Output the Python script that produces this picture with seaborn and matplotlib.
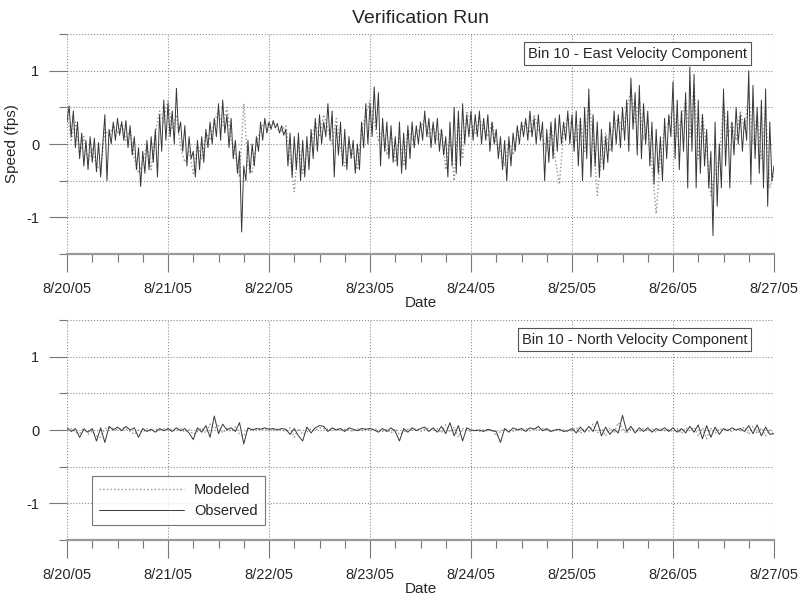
import numpy as np
import pandas as pd
import matplotlib
matplotlib.use('Agg')
import matplotlib.pyplot as plt
import matplotlib.dates as mdates
from matplotlib.ticker import FuncFormatter, MultipleLocator
import seaborn as sns

# East component, observed (half-hourly, one row = 6 hours)
east_observed = [
    # 8/20
    0.30, 0.52, 0.10, 0.45, -0.05, 0.30, -0.20, 0.15, -0.30, 0.05, -0.35, 0.10,
    -0.25, 0.08, -0.38, 0.02, -0.45, 0.00, 0.40, -0.50, 0.20, 0.00, 0.30, 0.05,
    0.35, 0.12, 0.30, 0.05, 0.32, -0.05, 0.25, -0.15, 0.10, -0.35, -0.05, -0.58,
    -0.10, -0.40, 0.05, -0.35, 0.10, -0.25, 0.20, -0.45, 0.40, -0.10, 0.60, 0.05,
    # 8/21
    0.55, 0.10, 0.45, 0.00, 0.76, 0.15, 0.30, -0.10, 0.25, -0.30, 0.10, -0.20,
    -0.10, -0.45, 0.05, -0.35, 0.10, -0.25, 0.20, -0.05, 0.30, 0.00, 0.35, 0.10,
    0.55, 0.05, 0.60, 0.15, 0.40, -0.05, 0.35, -0.20, 0.05, -0.40, -0.10, -1.20,
    -0.30, -0.50, 0.05, -0.40, 0.00, -0.30, 0.10, -0.10, 0.30, 0.05, 0.35, 0.15,
    # 8/22
    0.30, 0.20, 0.32, 0.22, 0.28, 0.15, 0.25, 0.12, 0.20, -0.30, 0.15, -0.45,
    0.10, -0.35, 0.15, -0.50, 0.05, -0.45, 0.10, -0.35, 0.20, -0.20, 0.35, -0.10,
    0.40, 0.00, 0.30, 0.10, 0.55, 0.05, 0.45, -0.45, 0.25, -0.15, 0.30, -0.30,
    0.20, -0.35, 0.10, -0.20, 0.05, -0.40, 0.00, -0.35, 0.30, -0.05, 0.55, 0.00,
    # 8/23
    0.55, 0.10, 0.78, 0.20, 0.70, -0.30, 0.35, -0.10, 0.30, -0.20, 0.25, -0.25,
    0.10, -0.30, 0.30, -0.40, 0.15, -0.35, 0.25, -0.20, 0.30, -0.05, 0.25, 0.00,
    0.30, 0.05, 0.45, 0.10, 0.35, -0.05, 0.30, 0.00, 0.35, -0.10, 0.20, -0.15,
    0.10, -0.45, 0.30, -0.30, 0.50, -0.40, 0.45, -0.30, 0.55, 0.00, 0.40, 0.10,
    # 8/24
    0.45, 0.05, 0.40, 0.10, 0.45, 0.00, 0.35, 0.05, 0.40, -0.10, 0.30, 0.00,
    0.20, -0.20, 0.10, -0.35, 0.05, -0.50, 0.10, -0.30, 0.15, -0.10, 0.25, 0.00,
    0.30, 0.10, 0.35, 0.05, 0.45, 0.10, 0.35, 0.00, 0.40, 0.05, 0.30, -0.50,
    0.20, -0.25, 0.30, -0.20, 0.35, -0.10, 0.40, 0.00, 0.30, 0.05, 0.45, 0.00,
    # 8/25
    0.40, -0.10, 0.45, -0.30, 0.35, -0.50, 0.50, -0.20, 0.75, -0.45, 0.40, -0.30,
    0.30, -0.45, 0.20, -0.35, 0.10, -0.25, 0.30, -0.10, 0.45, 0.00, 0.40, -0.05,
    0.50, 0.05, 0.60, -0.10, 0.90, 0.20, 0.70, -0.15, 0.80, -0.20, 0.55, 0.00,
    0.45, -0.30, 0.30, -0.55, 0.20, -0.40, 0.10, -0.50, 0.35, -0.20, 0.40, 0.10,
    # 8/26
    0.85, -0.20, 0.60, -0.35, 0.45, -0.10, 0.70, -0.60, 1.05, -0.10, 0.95, -0.60,
    0.60, -0.40, 0.40, -0.30, 0.20, -0.60, -0.10, -1.25, 0.30, -0.85, 0.00, -0.60,
    0.75, -0.30, 0.45, -0.60, 0.30, -0.15, 0.50, 0.00, 0.40, -0.10, 0.35, 0.05,
    1.00, -0.55, 0.80, -0.20, 0.50, -0.40, 0.60, -0.60, 0.75, -0.85, 0.30, -0.50,
    # 8/27 00:00
    -0.30,
]

# East component, modeled (hourly)
east_modeled = [
    0.45, 0.05, 0.30, -0.15, 0.10, -0.25, -0.05, -0.30, -0.35, 0.20, 0.10, 0.25,
    0.15, 0.30, 0.05, 0.20, -0.20, -0.40, -0.25, 0.00, -0.35, 0.15, 0.45, 0.30,
    0.60, 0.20, 0.40, -0.05, -0.25, -0.10, -0.40, 0.00, -0.20, 0.15, 0.05, 0.30,
    0.45, 0.25, 0.50, 0.05, -0.15, -0.45, 0.55, -0.30, -0.40, 0.00, 0.20, 0.30,
    0.25, 0.28, 0.20, 0.18, 0.25, -0.20, -0.65, 0.05, -0.40, -0.15, 0.00, 0.30,
    0.10, 0.40, 0.20, 0.00, 0.35, -0.05, -0.30, 0.00, -0.15, -0.35, 0.20, 0.40,
    0.60, 0.30, 0.05, 0.20, -0.15, 0.15, -0.25, 0.10, -0.30, 0.20, 0.05, 0.15,
    0.20, 0.35, 0.10, 0.25, 0.05, 0.20, -0.35, 0.10, -0.50, 0.35, -0.20, 0.45,
    0.30, 0.15, 0.35, 0.20, 0.10, 0.30, 0.00, -0.10, -0.30, 0.05, -0.15, 0.15,
    0.20, 0.30, 0.15, 0.40, 0.20, 0.10, -0.10, 0.25, -0.20, -0.55, 0.15, 0.35,
    0.25, 0.05, 0.35, -0.10, 0.60, 0.10, -0.70, -0.20, 0.15, -0.10, 0.25, 0.35,
    0.20, 0.45, 0.75, 0.30, 0.60, 0.05, 0.35, -0.30, -0.95, -0.20, 0.20, 0.30,
    0.50, 0.10, 0.35, 0.60, 0.10, 0.80, -0.20, 0.40, -0.10, -0.70, -0.40, -0.20,
    0.55, 0.10, 0.30, 0.05, 0.45, 0.20, 0.70, 0.00, 0.40, -0.20, 0.50, -0.60,
    -0.40,
]

# North component, observed (hourly)
north_observed = [
    0.03, -0.02, 0.02, -0.10, 0.01, -0.03, 0.02, -0.15, 0.03, -0.17, 0.05, 0.00,
    0.04, -0.01, 0.05, 0.00, 0.03, -0.10, 0.02, -0.02, 0.01, -0.03, 0.02, -0.01,
    0.02, -0.02, 0.03, -0.01, 0.02, -0.04, -0.13, 0.03, -0.03, 0.06, -0.10, 0.19,
    -0.05, 0.08, 0.00, 0.03, -0.02, 0.10, -0.19, 0.03, 0.00, 0.02, 0.01, 0.03,
    0.01, 0.02, 0.00, 0.02, 0.01, -0.06, 0.02, -0.08, -0.15, 0.04, -0.04, 0.03,
    0.06, 0.05, -0.02, 0.03, 0.00, 0.02, -0.02, 0.03, 0.01, -0.01, 0.02, 0.01,
    0.02, 0.00, -0.03, 0.02, -0.02, 0.03, -0.02, -0.15, 0.02, -0.03, 0.03, -0.01,
    0.02, 0.04, -0.02, 0.03, -0.03, 0.05, -0.05, 0.10, -0.08, 0.06, -0.15, 0.03,
    0.00, -0.01, 0.00, -0.02, 0.01, -0.01, -0.02, -0.17, 0.02, -0.03, 0.03, 0.00,
    0.02, -0.02, 0.03, 0.01, 0.05, -0.01, 0.02, -0.02, 0.00, 0.01, -0.02, -0.01,
    0.02, -0.04, 0.04, -0.03, 0.05, -0.02, 0.12, -0.08, 0.04, -0.06, 0.01, -0.04,
    0.20, -0.02, 0.05, -0.04, 0.03, -0.02, 0.03, -0.03, 0.02, -0.01, 0.03, -0.02,
    0.03, -0.03, 0.02, -0.04, 0.05, -0.03, 0.07, -0.12, 0.06, -0.10, 0.04, -0.06,
    0.02, -0.01, 0.03, 0.00, 0.02, -0.02, 0.06, -0.05, 0.07, -0.08, 0.04, -0.06,
    -0.05,
]

# North component, modeled (hourly)
north_modeled = [
    0.00, 0.02, -0.03, -0.05, 0.03, -0.06, -0.02, -0.08, -0.10, 0.02, 0.03, 0.02,
    0.00, 0.03, 0.02, -0.02, -0.06, 0.00, -0.03, 0.02, -0.02, 0.01, 0.00, 0.02,
    0.00, 0.01, -0.01, 0.02, -0.03, 0.01, -0.06, -0.02, 0.03, -0.04, 0.08, 0.02,
    0.06, -0.04, 0.02, -0.02, 0.04, -0.06, -0.08, 0.02, 0.01, 0.00, 0.02, 0.00,
    0.02, 0.00, 0.01, 0.00, -0.02, 0.03, -0.10, 0.02, -0.06, -0.03, 0.02, 0.00,
    0.03, 0.02, 0.01, -0.01, 0.02, 0.00, 0.01, 0.00, -0.02, 0.02, 0.00, 0.01,
    0.00, 0.02, 0.00, -0.02, 0.01, -0.04, 0.02, -0.06, -0.03, 0.01, 0.00, 0.02,
    -0.02, 0.01, 0.03, -0.01, 0.02, -0.04, 0.07, -0.03, 0.04, -0.10, 0.02, 0.00,
    -0.02, 0.01, -0.02, 0.00, -0.01, 0.01, -0.08, -0.02, 0.01, 0.00, -0.02, 0.02,
    0.00, 0.02, -0.01, 0.03, 0.00, 0.02, 0.00, -0.02, 0.01, -0.01, 0.00, -0.02,
    0.00, 0.03, -0.05, 0.02, -0.02, 0.08, -0.04, 0.02, -0.08, 0.03, -0.03, 0.10,
    0.02, -0.05, 0.02, 0.00, -0.02, 0.02, -0.01, 0.02, -0.03, 0.02, -0.01, 0.01,
    -0.02, 0.02, -0.05, 0.03, -0.01, 0.04, -0.08, 0.03, -0.12, 0.02, -0.05, 0.02,
    0.00, 0.01, -0.02, 0.02, -0.01, 0.04, -0.06, 0.05, -0.05, 0.03, -0.08, 0.00,
    -0.07,
]

start = '2005-08-20'
end = '2005-08-27'
panel_titles = ['Bin 10 - East Velocity Component', 'Bin 10 - North Velocity Component']

sns.set_style('white')
plt.rcParams['font.family'] = ['Liberation Sans', 'DejaVu Sans']
plt.rcParams['axes.unicode_minus'] = False

t_half = pd.date_range(start, periods=len(east_observed), freq='30min')
t_hour = pd.date_range(start, periods=len(east_modeled), freq='h')
east = pd.DataFrame({'time': t_half, 'speed': east_observed})
east_mod = pd.DataFrame({'time': t_hour, 'speed': east_modeled})
north = pd.DataFrame({'time': t_hour, 'speed': north_observed})
north_mod = pd.DataFrame({'time': t_hour, 'speed': north_modeled})

fig = plt.figure(figsize=(8.01, 5.99), dpi=100)
ax_top = fig.add_axes([67 / 801, 345 / 599, 707 / 801, 220 / 599])
ax_bot = fig.add_axes([67 / 801, 59 / 599, 707 / 801, 220 / 599])

mod_style = dict(color='#959595', linewidth=1.0, linestyle=':')
obs_style = dict(color='#383838', linewidth=0.7)


def date_label(x, pos):
    d = mdates.num2date(x)
    return f'{d.month}/{d.day}/{d.strftime("%y")}'


def style_axes(ax, label):
    ax.set_xlim(pd.Timestamp(start), pd.Timestamp(end))
    ax.set_ylim(-1.5, 1.5)
    ax.xaxis.set_major_locator(mdates.DayLocator())
    ax.xaxis.set_minor_locator(mdates.HourLocator(byhour=[6, 12, 18]))
    ax.xaxis.set_major_formatter(FuncFormatter(date_label))
    ax.yaxis.set_major_locator(MultipleLocator(1))
    ax.yaxis.set_minor_locator(MultipleLocator(0.5))
    ax.grid(True, which='both', axis='y', linestyle=':', color='#8c8c8c', linewidth=0.8)
    ax.grid(True, which='major', axis='x', linestyle=':', color='#8c8c8c', linewidth=0.8)
    for side in ['left', 'top', 'right']:
        ax.spines[side].set_visible(False)
    ax.spines['bottom'].set_color('#9a9a9a')
    ax.spines['bottom'].set_linewidth(1.6)
    ax.tick_params(which='major', direction='out', length=13, width=0.8, color='#777777',
                   pad=7, labelsize=10.5, bottom=True, left=True)
    ax.tick_params(which='minor', direction='out', length=6, width=0.8, color='#777777',
                   bottom=True, left=True)
    ax.set_xlabel('Date', fontsize=11, labelpad=0)
    ax.set_ylabel('')
    ax.text(0.962, 0.943, label, transform=ax.transAxes, ha='right', va='top', fontsize=10.5,
            zorder=5, bbox=dict(boxstyle='square,pad=0.28', fc='white', ec='#555555', lw=0.8))


sns.lineplot(data=east_mod, x='time', y='speed', ax=ax_top, estimator=None, **mod_style)
sns.lineplot(data=east, x='time', y='speed', ax=ax_top, estimator=None, **obs_style)
sns.lineplot(data=north_mod, x='time', y='speed', ax=ax_bot, estimator=None, label='Modeled', **mod_style)
sns.lineplot(data=north, x='time', y='speed', ax=ax_bot, estimator=None, label='Observed', **obs_style)

style_axes(ax_top, panel_titles[0])
style_axes(ax_bot, panel_titles[1])
ax_top.set_ylabel('Speed (fps)', fontsize=11, labelpad=5)
ax_top.set_title('Verification Run', fontsize=14, pad=8)

leg = ax_bot.legend(loc='lower left', bbox_to_anchor=(0.035, 0.068), fontsize=10.5,
                    frameon=True, fancybox=False, handlelength=5.8, handletextpad=0.7,
                    borderpad=0.5, labelspacing=0.45, borderaxespad=0)
leg.get_frame().set_edgecolor('#555555')
leg.get_frame().set_linewidth(0.8)

fig.savefig('out.png', dpi=100)
